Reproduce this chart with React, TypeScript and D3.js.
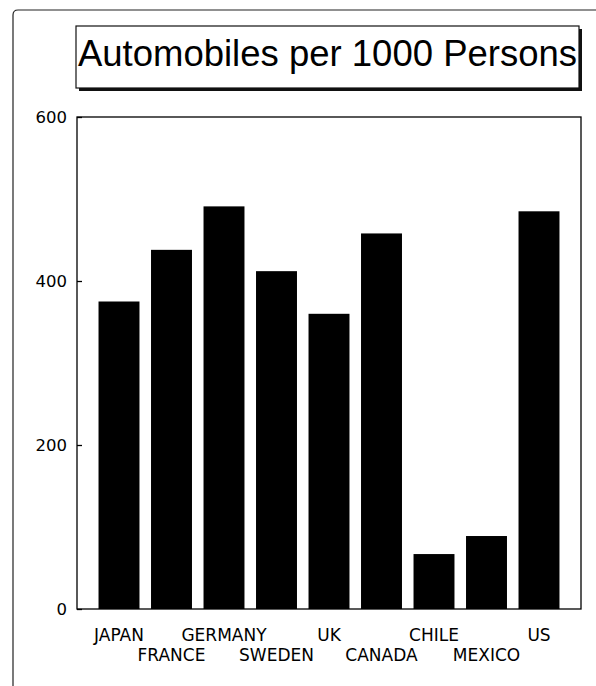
import React, { useEffect, useRef } from 'react';
import * as d3 from 'd3';

const countries = ['JAPAN', 'FRANCE', 'GERMANY', 'SWEDEN', 'UK', 'CANADA', 'CHILE', 'MEXICO', 'US'];
const carsPer1000 = [375, 438, 491, 412, 360, 458, 67, 89, 485];
const yTicks = [0, 200, 400, 600];
const title = 'Automobiles per 1000 Persons';

const W = 596;
const H = 686;
const FONT = "'DejaVu Sans', sans-serif";
const TITLE_FONT = "'Liberation Sans', Arial, sans-serif";

const App: React.FC = () => {
  const svgRef = useRef<SVGSVGElement>(null);

  useEffect(() => {
    if (!svgRef.current) return;
    const svg = d3.select(svgRef.current);
    svg.selectAll('*').remove();

    // plot frame
    const frame = { left: 77, right: 581, top: 117, bottom: 609 };

    // page border (top + left only, rounded corner)
    svg
      .append('path')
      .attr('d', `M13,${H} L13,15 Q13,10 18,10 L${W},10`)
      .attr('fill', 'none')
      .attr('stroke', '#222')
      .attr('stroke-width', 1.2);

    // title box with drop shadow
    const tb = { x: 76, y: 26, w: 503, h: 62 };
    svg
      .append('rect')
      .attr('x', tb.x + 3)
      .attr('y', tb.y + 3)
      .attr('width', tb.w)
      .attr('height', tb.h)
      .attr('fill', '#111');
    svg
      .append('rect')
      .attr('x', tb.x)
      .attr('y', tb.y)
      .attr('width', tb.w)
      .attr('height', tb.h)
      .attr('fill', '#fff')
      .attr('stroke', '#111')
      .attr('stroke-width', 1.2);
    svg
      .append('text')
      .attr('x', tb.x + tb.w / 2)
      .attr('y', 66)
      .attr('text-anchor', 'middle')
      .attr('font-family', TITLE_FONT)
      .attr('font-size', 36.5)
      .attr('fill', '#000')
      .text(title);

    // ### Scales
    const x = d3
      .scaleBand<string>()
      .domain(countries)
      .range([frame.left, frame.right])
      .paddingInner(0.22)
      .paddingOuter(0.41);

    const y = d3.scaleLinear().domain([0, 600]).range([frame.bottom, frame.top]);

    // bars
    svg
      .append('g')
      .selectAll('rect')
      .data(countries)
      .join('rect')
      .attr('x', d => x(d)!)
      .attr('width', x.bandwidth())
      .attr('y', (_, i) => y(carsPer1000[i]))
      .attr('height', (_, i) => y(0) - y(carsPer1000[i]))
      .attr('fill', '#000');

    // frame
    svg
      .append('rect')
      .attr('x', frame.left)
      .attr('y', frame.top)
      .attr('width', frame.right - frame.left)
      .attr('height', frame.bottom - frame.top)
      .attr('fill', 'none')
      .attr('stroke', '#000')
      .attr('stroke-width', 1.3);

    // y axis: inward ticks, labels on the left
    const yAxis = d3
      .axisLeft(y)
      .tickValues(yTicks)
      .tickSize(-5)
      .tickPadding(10)
      .tickFormat(d3.format('d'));
    const yg = svg
      .append('g')
      .attr('transform', `translate(${frame.left},0)`)
      .call(yAxis);
    yg.select('.domain').remove();
    yg.selectAll('line').attr('stroke', '#000').attr('stroke-width', 1.3);
    yg.selectAll('text')
      .attr('font-family', FONT)
      .attr('font-size', 16.5)
      .attr('fill', '#000');

    // x labels, staggered in two rows
    svg
      .append('g')
      .selectAll('text')
      .data(countries)
      .join('text')
      .attr('x', d => x(d)! + x.bandwidth() / 2)
      .attr('y', (_, i) => (i % 2 === 0 ? 641 : 661))
      .attr('text-anchor', 'middle')
      .attr('font-family', FONT)
      .attr('font-size', 17)
      .attr('fill', '#000')
      .text(d => d);
  }, []);

  return (
    <svg
      ref={svgRef}
      width={W}
      height={H}
      style={{ position: 'absolute', left: 0, top: 0, background: '#fff' }}
    />
  );
};

export default App;
